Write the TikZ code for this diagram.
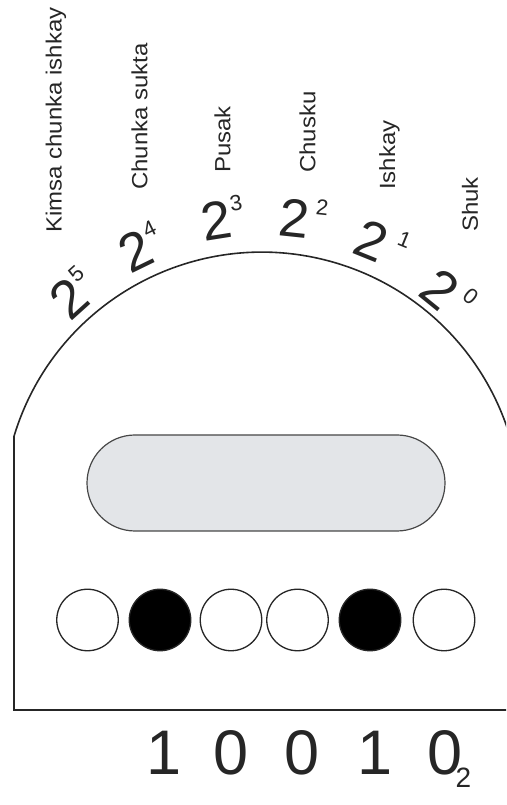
\documentclass[tikz,border=0pt]{standalone}
\usepackage{graphicx}
\usepackage{fontspec}
\setmainfont{Liberation Sans}
\definecolor{screenfill}{HTML}{E3E5E8}
\definecolor{ink}{HTML}{262626}
\newcommand{\pw}[2][1pt]{2\rlap{\hspace{#1}\raisebox{25pt}{\fontsize{22}{22}\selectfont #2}}}
\newcommand{\lbl}[1]{\scalebox{1.09}[1]{#1}}
\begin{document}
\begin{tikzpicture}[x=1pt,y=1pt,
  outline/.style={draw=ink,line width=1.6pt},
  screenbox/.style={draw=ink!85,line width=1.2pt,fill=screenfill,rounded corners=48pt,minimum width=358pt,minimum height=96pt,inner sep=0pt},
  bead/.style={circle,draw=ink,line width=1.3pt,minimum size=61.5pt,inner sep=0pt},
  beadon/.style={bead,fill=black},
  beadoff/.style={bead,fill=white},
  namelabel/.style={rotate=90,anchor=west,inner sep=0pt,text=ink,font=\fontsize{22}{22}\selectfont},
  power/.style={inner sep=0pt,text=ink,font=\fontsize{54}{54}\selectfont},
  digit/.style={inner sep=0pt,text=ink,font=\fontsize{63}{63}\selectfont},
  subdigit/.style={inner sep=0pt,text=ink,font=\fontsize{28}{28}\selectfont}]
\useasboundingbox (0,0) rectangle (506,805);
\begin{scope}
  \clip (0,0) rectangle (506,805);
  \draw[outline] (530,95) -- (14,95) -- (14,368.7) arc[start angle=163.2,end angle=5,radius=259];
\end{scope}
% display
\node[screenbox] (screen) at (266,322) {};
% beads
\node[beadoff] (c1) at (87.5,185) {};
\node[beadon]  (c2) at (160,185) {};
\node[beadoff] (c3) at (231,185) {};
\node[beadoff] (c4) at (297.5,185) {};
\node[beadon]  (c5) at (370,185) {};
\node[beadoff] (c6) at (444,185) {};
% binary digits
\node[digit] (d1) at (164,52.5) {1};
\node[digit] (d2) at (231,52.5) {0};
\node[digit] (d3) at (302.5,52.5) {0};
\node[digit] (d4) at (375,52.5) {1};
\node[digit] (d5) at (445,52.5) {0};
\node[subdigit] (base) at (463.5,27) {2};
% powers
\node[power,rotate=42]  (p5) at (68,507) {\pw[1pt]{5}};
\node[power,rotate=26]  (p4) at (135,555) {\pw[1pt]{4}};
\node[power,rotate=9]   (p3) at (216,586) {\pw[1pt]{3}};
\node[power,rotate=-6]  (p2) at (295,588) {\pw[5pt]{2}};
\node[power,rotate=-22] (p1) at (372,565) {\pw[9pt]{1}};
\node[power,rotate=-39] (p0) at (441,517) {\pw[7pt]{0}};
% names
\node[namelabel] (n5) at (56,572) {\lbl{Kimsa chunka ishkay}};
\node[namelabel] (n4) at (139.5,615) {\lbl{Chunka sukta}};
\node[namelabel] (n3) at (222.5,632) {\lbl{Pusak}};
\node[namelabel] (n2) at (307.5,632) {\lbl{Chusku}};
\node[namelabel] (n1) at (389.5,615) {\lbl{Ishkay}};
\node[namelabel] (n0) at (470,573) {\lbl{Shuk}};
\end{tikzpicture}
\end{document}
